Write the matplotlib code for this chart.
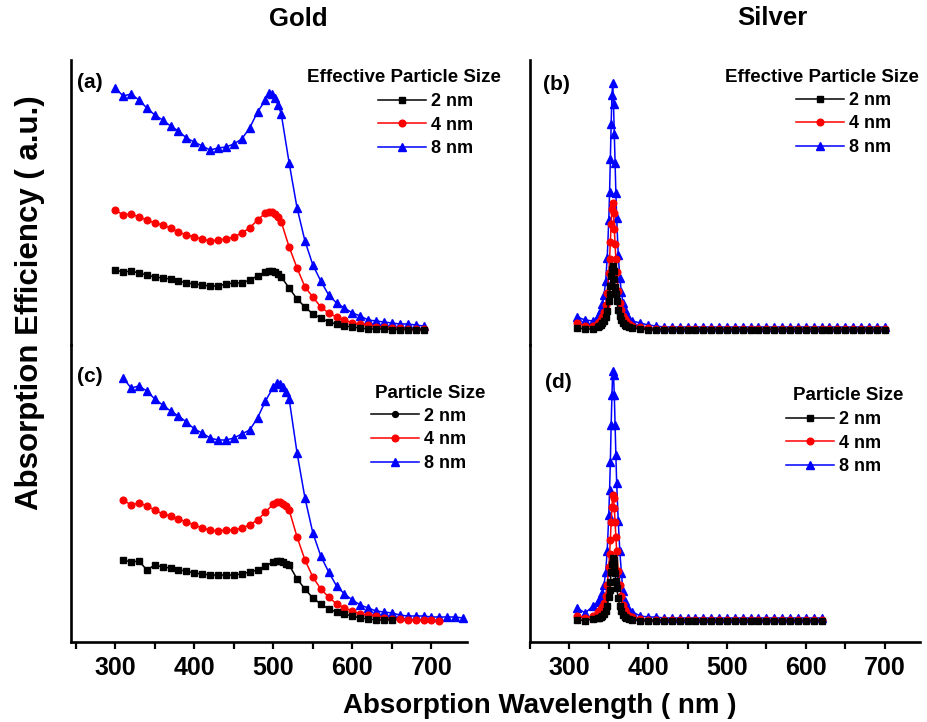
import matplotlib
matplotlib.use('Agg')
import matplotlib.pyplot as plt
from matplotlib.lines import Line2D
from matplotlib.ticker import MultipleLocator

plt.rcParams['font.family'] = ['Liberation Sans', 'DejaVu Sans']
plt.rcParams['font.weight'] = 'bold'

# ---- gold, panel (a): effective particle size ----
wl_a = [300, 310, 320, 330, 340, 350, 360, 370, 380, 390, 400, 410, 420, 430, 440, 450, 460, 470, 480,
        490, 494, 498, 502, 506, 510,
        520, 530, 540, 550, 560, 570, 580, 590, 600, 610, 620, 630, 640, 650, 660, 670, 680, 690]
a_2nm = [60, 58, 59, 57, 55, 53, 52, 51, 49, 47, 46, 45, 44, 44, 46, 47, 47, 50, 54,
         58, 59, 59, 58, 56, 53,
         42, 31, 23, 16, 12, 8, 6, 4, 3, 2, 1, 1, 1, 0.5, 0.5, 0.5, 0.5, 0.5]
a_4nm = [120, 115, 116, 113, 110, 107, 105, 102, 98, 95, 93, 91, 89, 90, 91, 93, 97, 102, 110,
         117, 118, 118, 116, 113, 108,
         83, 62, 43, 33, 23, 17, 13, 10, 7, 6, 5, 3, 3, 2, 2, 1, 1, 1]
a_8nm = [242, 234, 236, 230, 222, 215, 210, 204, 199, 192, 188, 184, 180, 182, 183, 186, 191, 202, 218,
         230, 237, 236, 232, 225, 216,
         167, 122, 89, 65, 49, 35, 27, 22, 17, 14, 10, 9, 8, 7, 6, 6, 5, 4]

# ---- gold, panel (c): particle size ----
wl_c = [310, 320, 330, 340, 350, 360, 370, 380, 390, 400, 410, 420, 430, 440, 450, 460, 470, 480, 490,
        500, 504, 508, 512, 516, 520,
        530, 540, 550, 560, 570, 580, 590, 600, 610, 620, 630, 640, 650, 660, 670, 680, 690, 700,
        710, 720, 730, 740]
c_2nm = [61, 59, 60, 51, 56, 54, 53, 51, 50, 48, 47, 46, 46, 46, 46, 47, 49, 51, 55,
         59, 60, 60, 59, 57, 56,
         42, 32, 23, 17, 12, 9, 7, 5, 3, 2, 1, 1, 1]
c_4nm = [121, 116, 118, 115, 111, 107, 105, 102, 99, 96, 93, 91, 90, 91, 91, 93, 96, 101, 109,
         117, 119, 119, 117, 115, 111,
         84, 61, 44, 32, 24, 17, 13, 10, 7, 6, 5, 3, 2, 2, 1, 1, 1, 1, 0.5]
c_8nm = [243, 233, 235, 230, 222, 216, 210, 205, 199, 192, 188, 183, 181, 181, 183, 187, 191, 203, 220,
         234, 238, 237, 234, 229, 222,
         168, 123, 88, 65, 49, 35, 27, 21, 16, 13, 10, 9, 8, 6, 5, 5, 5, 4, 4, 4, 4, 3]

# ---- silver, panel (b): effective particle size ----
wl_b = [310, 320, 330,
        336, 338, 340, 342, 344, 346, 348, 350, 351, 352, 353, 354, 355, 356, 357, 358, 359, 360,
        362, 364, 366, 368, 370, 372, 376,
        380, 390, 400, 410, 420, 430, 440, 450, 460, 470, 480, 490, 500, 510, 520, 530, 540, 550,
        560, 570, 580, 590, 600, 610, 620, 630, 640, 650, 660, 670, 680, 690, 700]
b_2nm = [2, 1, 1,
         3, 4, 5, 7, 9, 13, 19, 29, 36, 44, 54, 61, 64, 59, 51, 43, 36, 29,
         20, 14, 10, 7, 5, 4, 3,
         2, 1, 0.5, 0.5, 0.5, 0.5, 0.5, 0.5, 0.5, 0.5, 0.5, 0.5, 0.5, 0.5, 0.5, 0.5, 0.5, 0.5,
         0.5, 0.5, 0.5, 0.5, 0.5, 0.5, 0.5, 0.5, 0.5, 0.5, 0.5, 0.5, 0.5, 0.5, 0.5]
b_4nm = [7, 4, 4,
         7, 8, 10, 13, 18, 25, 37, 57, 71, 88, 106, 121, 127, 117, 101, 86, 71, 58,
         39, 27, 20, 14, 11, 9, 6,
         4, 3, 2, 1.5, 1.5, 1.5, 1.5, 1.5, 1.5, 1.5, 1.5, 1.5, 1.5, 1.5, 1.5, 1.5, 1.5, 1.5,
         1.5, 1.5, 1.5, 1.5, 1.5, 1.5, 1.5, 1.5, 1.5, 1.5, 1.5, 1.5, 1.5, 1.5, 1.5]
b_8nm = [13, 10, 9,
         13, 16, 20, 26, 35, 49, 72, 110, 138, 171, 206, 235, 247, 226, 196, 167, 137, 112,
         75, 52, 38, 27, 20, 16, 11,
         9, 7, 5, 4, 3, 3, 3, 3, 3, 3, 3, 3, 3, 3, 3, 3, 3, 3,
         3, 3, 3, 3, 3, 3, 3, 3, 3, 3, 3, 3, 3, 3, 3]

# ---- silver, panel (d): particle size ----
wl_d = [310, 320, 330,
        336, 338, 340, 342, 344, 346, 348, 350, 351, 352, 353, 354, 355, 356, 357, 358, 359, 360,
        362, 364, 366, 368, 370, 372, 376,
        380, 390, 400, 410, 420, 430, 440, 450, 460, 470, 480, 490, 500, 510, 520, 530, 540, 550,
        560, 570, 580, 590, 600, 610, 620]
d_2nm = [1, 0.5, 2,
         3, 3, 4, 5, 7, 10, 15, 24, 31, 39, 49, 57, 63, 61, 55, 48, 40, 33,
         23, 15, 10, 6, 4, 3, 2,
         1, 0.5, 0.5, 0.5, 0.5, 0.5, 0.5, 0.5, 0.5, 0.5, 0.5, 0.5, 0.5, 0.5, 0.5, 0.5, 0.5, 0.5,
         0.5, 0.5, 0.5, 0.5, 0.5, 0.5, 0.5]
d_4nm = [5, 3, 5,
         9, 10, 12, 14, 18, 25, 36, 54, 67, 81, 99, 114, 126, 123, 113, 99, 84, 70,
         50, 36, 25, 16, 11, 8, 5,
         4, 2, 1, 1, 1, 1, 1, 1, 1, 1, 1, 1, 1, 1, 1, 1, 1, 1,
         1, 1, 1, 1, 1, 1, 1]
d_8nm = [13, 8, 15,
         19, 21, 23, 28, 36, 49, 70, 106, 131, 159, 196, 226, 250, 246, 226, 196, 166, 138,
         100, 70, 48, 30, 20, 15, 11,
         9, 5, 4, 4, 3, 3, 3, 3, 3, 3, 3, 3, 3, 3, 3, 3, 3, 3,
         3, 3, 3, 3, 3, 3, 3]

sizes = ['2 nm', '4 nm', '8 nm']
colors = ['black', 'red', 'blue']
markers = ['s', 'o', '^']
msizes = [4.2, 4.8, 5.5]

W, H = 927, 722
fig = plt.figure(figsize=(W / 100, H / 100), dpi=100)


def px_axes(x0, x1, y0, y1):
    return fig.add_axes([x0 / W, 1 - y1 / H, (x1 - x0) / W, (y1 - y0) / H])


ax_a = px_axes(71, 467, 60, 345)
ax_c = px_axes(71, 467, 345, 642)
ax_b = px_axes(530, 920, 60, 345)
ax_d = px_axes(530, 920, 345, 642)


def draw(ax, wl, series, order):
    for i in order:
        y = series[i]
        ax.plot(wl[:len(y)], y, color=colors[i], marker=markers[i], ms=msizes[i],
                lw=1.1, mec=colors[i], zorder=3 + order.index(i))


draw(ax_a, wl_a, [a_2nm, a_4nm, a_8nm], [2, 1, 0])
draw(ax_c, wl_c, [c_2nm, c_4nm, c_8nm], [2, 1, 0])
draw(ax_b, wl_b, [b_2nm, b_4nm, b_8nm], [2, 1, 0])
draw(ax_d, wl_d, [d_2nm, d_4nm, d_8nm], [2, 1, 0])

for ax in (ax_a, ax_b):
    ax.set_ylim(-15, 270)
for ax in (ax_c, ax_d):
    ax.set_ylim(-21, 276)
for ax in (ax_a, ax_c):
    ax.set_xlim(244, 745)
for ax in (ax_b, ax_d):
    ax.set_xlim(250, 745)

for ax in (ax_a, ax_b, ax_c, ax_d):
    ax.patch.set_alpha(0)
    for s in ('top', 'right'):
        ax.spines[s].set_visible(False)
    ax.spines['left'].set_linewidth(1.9)
    ax.spines['bottom'].set_linewidth(1.9)
    ax.set_yticks([])

for ax in (ax_a, ax_b):
    ax.spines['bottom'].set_visible(False)
    ax.set_xticks([])

for ax in (ax_c, ax_d):
    ax.xaxis.set_major_locator(MultipleLocator(100))
    ax.xaxis.set_minor_locator(MultipleLocator(50))
    ax.tick_params(axis='x', which='both', direction='out', length=5, width=1.6, labelsize=18, pad=5)
    for lbl in ax.get_xticklabels():
        lbl.set_fontweight('bold')


def legend(ax, title, title_xy, line_x, mid_y, lead_marker):
    mk = [lead_marker, 'o', '^']
    handles = [Line2D([], [], color=colors[i], marker=mk[i], ms=msizes[i], lw=1.1)
               for i in range(3)]
    leg = ax.legend(handles, sizes, loc='center left',
                    bbox_to_anchor=(line_x / W, 1 - mid_y / H), bbox_transform=fig.transFigure,
                    frameon=False, borderpad=0, handlelength=2.65, handletextpad=0.3,
                    labelspacing=0.37, prop={'weight': 'bold', 'size': 13})
    leg.set_zorder(10)
    fig.text(title_xy[0] / W, 1 - title_xy[1] / H, title, ha='center', va='center',
             fontsize=13.5, fontweight='bold')


legend(ax_a, 'Effective Particle Size', (404, 78), 369, 125, 's')
legend(ax_b, 'Effective Particle Size', (822, 77), 787, 124, 's')
legend(ax_c, 'Particle Size', (430, 393), 362, 440, 'o')
legend(ax_d, 'Particle Size', (848, 396), 777, 443, 's')

for txt, x, y in [('(a)', 77, 83), ('(b)', 543, 85), ('(c)', 77, 377), ('(d)', 545, 382)]:
    fig.text(x / W, 1 - y / H, txt, ha='left', va='center', fontsize=15, fontweight='bold')

fig.text(298 / W, 1 - 19 / H, 'Gold', ha='center', va='center', fontsize=18.5, fontweight='bold')
fig.text(772 / W, 1 - 18 / H, 'Silver', ha='center', va='center', fontsize=18.5, fontweight='bold')
fig.text(540 / W, 1 - 706 / H, 'Absorption Wavelength ( nm )', ha='center', va='center',
         fontsize=20, fontweight='bold')
fig.text(30 / W, 1 - 303 / H, 'Absorption Efficiency ( a.u.)', ha='center', va='center',
         rotation=90, fontsize=22.5, fontweight='bold')

fig.savefig('out.png', dpi=100)
